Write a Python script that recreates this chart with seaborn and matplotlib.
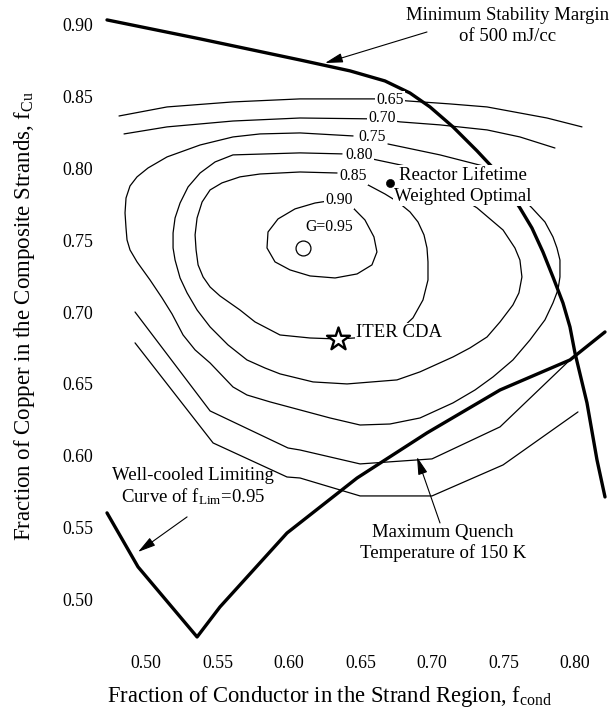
import numpy as np
import pandas as pd
import seaborn as sns
import matplotlib
matplotlib.use("Agg")
import matplotlib.pyplot as plt

# ---------------- data ----------------
x_ticks = [0.50, 0.55, 0.60, 0.65, 0.70, 0.75, 0.80]
y_ticks = [0.50, 0.55, 0.60, 0.65, 0.70, 0.75, 0.80, 0.85, 0.90]
x_tick_labels = ["0.50", "0.55", "0.60", "0.65", "0.70", "0.75", "0.80"]
y_tick_labels = ["0.50", "0.55", "0.60", "0.65", "0.70", "0.75", "0.80", "0.85", "0.90"]

# contour G = 0.65 (upper branch and lower branch)
c065_top_x = [0.4811, 0.5147, 0.5608, 0.6077, 0.6692, 0.6825, 0.7126, 0.7385, 0.7804, 0.8049]
c065_top_y = [0.8366, 0.8429, 0.8464, 0.8485, 0.8485, 0.8471, 0.8450, 0.8429, 0.8352, 0.8290]
c065_bot_x = [0.4923, 0.5469, 0.5986, 0.6077, 0.6497, 0.7000, 0.7497, 0.8021]
c065_bot_y = [0.6786, 0.6089, 0.5852, 0.5845, 0.5720, 0.5720, 0.5936, 0.6305]

# contour G = 0.70
c070_top_x = [0.4846, 0.5147, 0.5608, 0.6077, 0.6650, 0.6776, 0.7056, 0.7385, 0.7615, 0.7860]
c070_top_y = [0.8241, 0.8290, 0.8331, 0.8352, 0.8345, 0.8325, 0.8304, 0.8269, 0.8220, 0.8143]
c070_bot_x = [0.4923, 0.5448, 0.5993, 0.6077, 0.6497, 0.7000, 0.7476, 0.7965]
c070_bot_y = [0.7001, 0.6312, 0.6054, 0.6040, 0.5943, 0.5978, 0.6201, 0.6667]

# contour G = 0.75
c075_x = [0.6448, 0.6077, 0.5797, 0.5608, 0.5378, 0.5147, 0.5014, 0.4937, 0.4888, 0.4860,
          0.4853, 0.4860, 0.4867, 0.4888, 0.4937, 0.5028, 0.5112, 0.5182, 0.5259, 0.5343,
          0.5448, 0.5608, 0.5706, 0.5867, 0.6077, 0.6287, 0.6497, 0.6706, 0.6916, 0.7147,
          0.7301, 0.7427, 0.7566, 0.7685, 0.7790, 0.7846, 0.7881, 0.7895, 0.7895, 0.7874,
          0.7846, 0.7790, 0.7699, 0.7545, 0.7385, 0.7056, 0.6692]
c075_y = [0.8227, 0.8248, 0.8241, 0.8220, 0.8164, 0.8081, 0.8004, 0.7942, 0.7879, 0.7795,
          0.7691, 0.7586, 0.7503, 0.7433, 0.7350, 0.7224, 0.7099, 0.6987, 0.6841, 0.6737,
          0.6646, 0.6479, 0.6423, 0.6375, 0.6319, 0.6263, 0.6214, 0.6221, 0.6263, 0.6368,
          0.6458, 0.6549, 0.6667, 0.6806, 0.6946, 0.7064, 0.7155, 0.7245, 0.7363, 0.7447,
          0.7524, 0.7628, 0.7726, 0.7879, 0.8011, 0.8095, 0.8171]

# contour G = 0.80
c080_x = [0.6580, 0.6846, 0.7315, 0.7497, 0.7580, 0.7615, 0.7629, 0.7608, 0.7566, 0.7476,
          0.7385, 0.7266, 0.7147, 0.6916, 0.6755, 0.6406, 0.6168, 0.5937, 0.5832, 0.5706,
          0.5573, 0.5448, 0.5357, 0.5287, 0.5238, 0.5203, 0.5189, 0.5189, 0.5203, 0.5238,
          0.5294, 0.5378, 0.5483, 0.5608, 0.6077, 0.6371]
c080_y = [0.8067, 0.8011, 0.7726, 0.7572, 0.7447, 0.7363, 0.7245, 0.7134, 0.7050, 0.6932,
          0.6827, 0.6751, 0.6688, 0.6584, 0.6528, 0.6500, 0.6514, 0.6570, 0.6611, 0.6667,
          0.6772, 0.6897, 0.7015, 0.7134, 0.7238, 0.7363, 0.7447, 0.7551, 0.7656, 0.7760,
          0.7872, 0.7969, 0.8046, 0.8095, 0.8109, 0.8102]

# contour G = 0.85
c085_x = [0.6552, 0.6671, 0.6762, 0.6846, 0.6902, 0.6944, 0.6965, 0.6972, 0.6972, 0.6937,
          0.6867, 0.6776, 0.6566, 0.6343, 0.6147, 0.5937, 0.5762, 0.5657, 0.5517, 0.5448,
          0.5399, 0.5364, 0.5350, 0.5343, 0.5357, 0.5392, 0.5448, 0.5531, 0.5657, 0.5797,
          0.6077, 0.6336]
c085_y = [0.7886, 0.7823, 0.7767, 0.7698, 0.7628, 0.7538, 0.7447, 0.7350, 0.7224, 0.7085,
          0.6960, 0.6876, 0.6827, 0.6813, 0.6820, 0.6841, 0.6932, 0.7015, 0.7113, 0.7175,
          0.7245, 0.7329, 0.7433, 0.7538, 0.7656, 0.7767, 0.7851, 0.7900, 0.7942, 0.7962,
          0.7976, 0.7969]

# contour G = 0.90
c090_x = [0.6441, 0.6531, 0.6594, 0.6615, 0.6580, 0.6476, 0.6322, 0.6147, 0.6007, 0.5902,
          0.5846, 0.5853, 0.5923, 0.6042, 0.6182, 0.6273]
c090_y = [0.7733, 0.7642, 0.7524, 0.7419, 0.7329, 0.7266, 0.7238, 0.7252, 0.7294, 0.7350,
          0.7447, 0.7558, 0.7649, 0.7719, 0.7760, 0.7774]

# minimum stability margin of 500 mJ/cc
stab_x = [0.4727, 0.5378, 0.6077, 0.6427, 0.6671, 0.6846, 0.6986, 0.7147, 0.7315, 0.7427,
          0.7524, 0.7615, 0.7699, 0.7776, 0.7846, 0.7916, 0.7965, 0.8000, 0.8084, 0.8154,
          0.8210]
stab_y = [0.9035, 0.8903, 0.8756, 0.8680, 0.8610, 0.8526, 0.8429, 0.8290, 0.8123, 0.8004,
          0.7865, 0.7726, 0.7586, 0.7419, 0.7245, 0.7064, 0.6897, 0.6716, 0.6368, 0.5971,
          0.5713]

# well-cooled limiting curve (f_Lim = 0.95) joined to max quench temperature (150 K)
lim_x = [0.4727, 0.4944, 0.5357, 0.5517, 0.5986, 0.6476, 0.6965, 0.7476, 0.7965, 0.8210]
lim_y = [0.5602, 0.5226, 0.4738, 0.4947, 0.5462, 0.5845, 0.6159, 0.6458, 0.6667, 0.6862]

# contour labels
clabel_text = ["0.65", "0.70", "0.75", "0.80", "0.85", "0.90", "G=0.95"]
clabel_x = [0.6706, 0.6650, 0.6580, 0.6490, 0.6448, 0.6350, 0.6280]
clabel_y = [0.8478, 0.8352, 0.8220, 0.8095, 0.7948, 0.7781, 0.7593]

# special points
peak_pt = (0.6098, 0.7447)      # G = 0.95 island
optimal_pt = (0.6706, 0.7900)   # reactor lifetime weighted optimal
iter_pt = (0.6343, 0.6813)      # ITER CDA

# ---------------- style ----------------
sns.set_theme(style="white")
plt.rcParams["font.family"] = ["Liberation Serif", "DejaVu Serif"]
plt.rcParams["mathtext.fontset"] = "custom"
plt.rcParams["mathtext.rm"] = "Liberation Serif"
plt.rcParams["mathtext.it"] = "Liberation Serif:italic"
for k in ["text.color", "axes.labelcolor", "xtick.color", "ytick.color"]:
    plt.rcParams[k] = "black"

fig = plt.figure(figsize=(6.14, 7.17), dpi=100)
ax = fig.add_axes([100 / 614, 72 / 717, 512 / 614, 637 / 717])

def frame(name, xs, ys):
    return pd.DataFrame({"x": xs, "y": ys, "curve": name})

thin = pd.concat([
    frame("c065t", c065_top_x, c065_top_y), frame("c065b", c065_bot_x, c065_bot_y),
    frame("c070t", c070_top_x, c070_top_y), frame("c070b", c070_bot_x, c070_bot_y),
    frame("c075", c075_x, c075_y), frame("c080", c080_x, c080_y),
    frame("c085", c085_x, c085_y), frame("c090", c090_x, c090_y),
], ignore_index=True)
thick = pd.concat([frame("stab", stab_x, stab_y), frame("lim", lim_x, lim_y)],
                  ignore_index=True)

sns.lineplot(data=thin, x="x", y="y", units="curve", estimator=None, sort=False,
             color="black", lw=0.9, ax=ax, zorder=2)
sns.lineplot(data=thick, x="x", y="y", units="curve", estimator=None, sort=False,
             color="black", lw=2.4, ax=ax, zorder=2)

# markers
sns.scatterplot(x=[peak_pt[0]], y=[peak_pt[1]], marker="o", s=115, facecolor="white",
                edgecolor="black", linewidth=0.9, ax=ax, zorder=4)
sns.scatterplot(x=[optimal_pt[0]], y=[optimal_pt[1]], marker="o", s=34, color="black",
                edgecolor="black", ax=ax, zorder=4)
sns.scatterplot(x=[iter_pt[0]], y=[iter_pt[1]], marker="*", s=300, facecolor="white",
                edgecolor="black", linewidth=1.7, ax=ax, zorder=5)

box = dict(boxstyle="square,pad=0.08", fc="white", ec="none")
for t, xx, yy in zip(clabel_text, clabel_x, clabel_y):
    ax.text(xx, yy, t, fontsize=11.3, ha="center", va="center", bbox=box, zorder=3)

ann_fs = 13.5
ax.text(0.7217, 0.7879, "Reactor Lifetime\nWeighted Optimal", fontsize=ann_fs,
        ha="center", va="center", linespacing=1.3, bbox=box, zorder=3)
ax.text(0.6469, 0.6855, "ITER CDA", fontsize=ann_fs, ha="left", va="center",
        bbox=box, zorder=3)

arrow = dict(arrowstyle="-|>,head_length=0.6,head_width=0.16", color="black",
             lw=0.8, mutation_scale=18, shrinkA=0, shrinkB=0)
ax.annotate("", xy=(0.6252, 0.8735), xytext=(0.6965, 0.8951), arrowprops=arrow, zorder=3)
ax.text(0.7531, 0.8993, "Minimum Stability Margin\nof 500 mJ/cc", fontsize=ann_fs,
        ha="center", va="center", linespacing=1.3, clip_on=False)

ax.annotate("", xy=(0.4944, 0.5330), xytext=(0.5287, 0.5574), arrowprops=arrow, zorder=3)
ax.text(0.5329, 0.5783, "Well-cooled Limiting\nCurve of f$_{\\rm Lim}$=0.95", fontsize=ann_fs,
        ha="center", va="center", linespacing=1.15)

ax.annotate("", xy=(0.6895, 0.5992), xytext=(0.7056, 0.5532), arrowprops=arrow, zorder=3)
ax.text(0.7077, 0.5393, "Maximum Quench\nTemperature of 150 K", fontsize=ann_fs,
        ha="center", va="center", linespacing=1.2)

# axes
ax.set_xlim(0.4678, 0.8259)
ax.set_ylim(0.4682, 0.9118)
ax.set_xticks(x_ticks)
ax.set_xticklabels(x_tick_labels)
ax.set_yticks(y_ticks)
ax.set_yticklabels(y_tick_labels)
ax.tick_params(axis="both", length=0, labelsize=12.8)
ax.tick_params(axis="x", pad=7)
ax.tick_params(axis="y", pad=5)
sns.despine(ax=ax, left=True, bottom=True)

ax.set_xlabel("Fraction of Conductor in the Strand Region, f$_{\\rm cond}$", fontsize=16.3)
ax.set_ylabel("Fraction of Copper in the Composite Strands, f$_{\\rm Cu}$", fontsize=16.5)
ax.xaxis.label.set_va("center")
ax.yaxis.label.set_va("center")
ax.xaxis.set_label_coords(0.449, -0.0816)
ax.yaxis.set_label_coords(-0.1465, 0.5165)

fig.savefig("out.png", dpi=100)
